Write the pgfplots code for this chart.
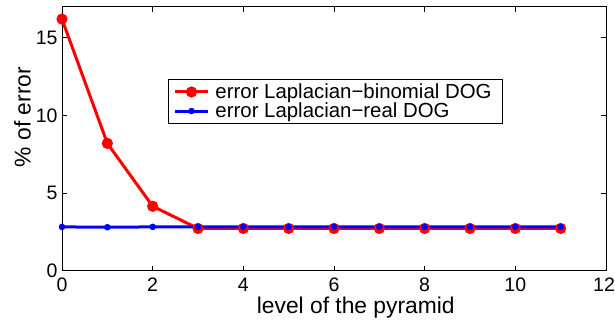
\documentclass[border=0pt]{standalone}
\usepackage{pgfplots}
\pgfplotsset{compat=1.18}
\usepackage{fontspec}
\setmainfont{Liberation Sans}
\begin{document}
\begin{tikzpicture}
\path[use as bounding box] (-62pt,-52.3pt) rectangle (553pt,270.7pt);
\begin{axis}[
  at={(0pt,0pt)}, anchor=south west,
  scale only axis, width=544pt, height=264pt,
  xmin=0, xmax=12, ymin=0, ymax=17,
  xtick={0,2,...,12}, ytick={0,5,10,15},
  xticklabels={0,2,4,6,8,10,\kern-4pt 12},
  tick align=inside, major tick length=5pt,
  tick style={line width=0.6pt, black},
  axis line style={line width=0.8pt},
  /pgf/number format/assume math mode=true,
  tick label style={font=\fontsize{19.5}{22}\selectfont},
  xticklabel style={yshift=-3.5pt},
  yticklabel style={xshift=-1pt},
  xlabel={level of the pyramid},
  ylabel={\% of error},
  xlabel style={font=\fontsize{22.8}{26}\selectfont, at={(axis description cs:0.54,-0.139)}, anchor=center},
  ylabel style={font=\fontsize{22.8}{26}\selectfont, at={(axis description cs:-0.0726,0.582)}, anchor=center, rotate=0},
  legend style={at={(axis description cs:0.195,0.726)}, anchor=north west,
    draw=black, line width=0.8pt, font=\fontsize{20.4}{22}\selectfont,
    inner xsep=5pt, inner ysep=3pt, row sep=0pt,
    nodes={inner xsep=6pt, inner ysep=1.4pt}, cells={anchor=west}},
  legend image code/.code={\draw[mark repeat=2,mark phase=2,#1] plot coordinates {(0pt,0pt) (16.5pt,0pt) (33pt,0pt)};},
]
\addplot[red, line width=3pt, mark=*, mark size=5pt, mark options={line width=1.2pt, fill=red}]
coordinates {(0,16.2) (1,8.2) (2,4.15) (3,2.72) (4,2.72) (5,2.72) (6,2.72) (7,2.72) (8,2.72) (9,2.72) (10,2.72) (11,2.72)};
\addlegendentry{error Laplacian−binomial DOG}
\addplot[blue, line width=3pt, mark=*, mark size=3pt, mark options={line width=0.5pt, fill=blue}]
coordinates {(0,2.82) (1,2.8) (2,2.82) (3,2.82) (4,2.82) (5,2.82) (6,2.82) (7,2.82) (8,2.82) (9,2.82) (10,2.82) (11,2.82)};
\addlegendentry{error Laplacian−real DOG}
\end{axis}
\end{tikzpicture}
\end{document}
